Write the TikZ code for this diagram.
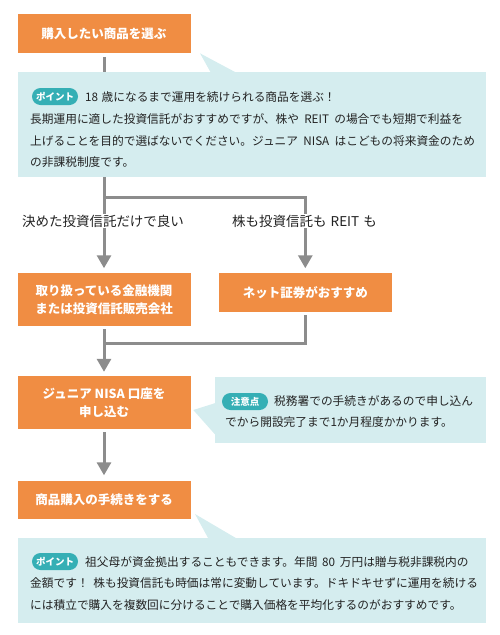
\documentclass[tikz,border=0pt]{standalone}
\usepackage{fontspec}
\setmainfont{Noto Sans CJK JP}
\usetikzlibrary{arrows.meta}
\definecolor{orng}{HTML}{F08D43}
\definecolor{cbg}{HTML}{D5EDEF}
\definecolor{tealb}{HTML}{35AFB5}
\definecolor{lgray}{HTML}{8C8C8C}
\definecolor{tgray}{HTML}{222222}
\tikzset{
  stepbox/.style={fill=orng, text=white, font=\bfseries\fontsize{12.5}{18}\selectfont,
    minimum width=173pt, inner sep=0pt, align=center},
  calloutbox/.style={fill=cbg, inner sep=0pt, anchor=north west},
  badge/.style={fill=tealb, rounded corners=8.5pt, minimum width=46pt, minimum height=17pt,
    inner sep=0pt, text=white, font=\bfseries\fontsize{9.5}{10}\selectfont},
  ctext/.style={anchor=base west, inner sep=0pt, text=tgray, font=\fontsize{11.7}{14}\selectfont},
  conn/.style={draw=lgray, line width=3pt},
  arr/.style={conn, -{Triangle[width=14pt,length=13pt]}},
  lbl/.style={fill=white, text=tgray, inner xsep=1pt, inner ysep=0.5pt,
    font=\fontsize{13.5}{16}\selectfont},
}
\begin{document}
\begin{tikzpicture}[x=1pt,y=-1pt]
\useasboundingbox (0,0) rectangle (500,635);
% step boxes
\node[stepbox, minimum height=38.7pt] (b1) at (104,33.3) {購入したい商品を選ぶ};
\node[stepbox, minimum height=52.7pt] (b2) at (104,299.3) {取り扱っている金融機関\\または投資信託販売会社};
\node[stepbox, minimum height=38.7pt] (b3) at (305.3,292.3) {ネット証券がおすすめ};
\node[stepbox, minimum height=53pt] (b4) at (104,402.5) {ジュニア NISA 口座を\\申し込む};
\node[stepbox, minimum height=38pt] (b5) at (104,500) {商品購入の手続きをする};
% connectors
\coordinate (split) at (104,197.5);
\coordinate (merge) at (104,343);
\draw[conn] ([yshift=-4pt]b1.south) -- (split);
\draw[arr, shorten >=4.5pt] (split) -- (b2.north);
\draw[arr, shorten >=4.5pt] (split) -| (b3.north);
\draw[arr, shorten >=4pt] ([yshift=-3.5pt]b2.south) -- (b4.north);
\draw[conn] ([yshift=-3.5pt]b3.south) |- (merge);
\draw[arr, shorten >=5.5pt] ([yshift=-3pt]b4.south) -- (b5.north);
% branch labels
\node[lbl] (l1) at (103,221) {決めた投資信託だけで良い};
\node[lbl] (l2) at (304.5,221) {株も投資信託も\hspace{0.3em}REIT\hspace{0.3em}も};
% callout 1
\node[calloutbox, minimum width=468pt, minimum height=104.7pt] (c1) at (18,72) {};
\fill[cbg] (200,53.3) -- (210.7,72.5) -- (236,72.5) -- cycle;
\node[badge] (p1) at (55,96.5) {ポイント};
\node[ctext] (t11) at (85,101.4) {18\hspace{0.3em}歳になるまで運用を続けられる商品を選ぶ！};
\node[ctext] (t12) at (30,123.4) {長期運用に適した投資信託がおすすめですが、株や\hspace{0.45em}REIT\hspace{0.45em}の場合でも短期で利益を};
\node[ctext] (t13) at (30,145.1) {上げることを目的で選ばないでください。ジュニア\hspace{0.45em}NISA\hspace{0.45em}はこどもの将来資金のため};
\node[ctext] (t14) at (30,166.7) {の非課税制度です。};
% callout 2
\node[calloutbox, minimum width=271pt, minimum height=66pt] (c2) at (215,376.7) {};
\fill[cbg] (193.3,410) -- (215.5,403) -- (215.5,435) -- cycle;
\node[badge] (p2) at (245,401.5) {注意点};
\node[ctext] (t21) at (274,405.4) {税務署での手続きがあるので申し込ん};
\node[ctext] (t22) at (225,426) {でから開設完了まで1か月程度かかります。};
% callout 3
\node[calloutbox, minimum width=468pt, minimum height=85pt] (c3) at (18,538) {};
\fill[cbg] (195,514) -- (208.3,538.5) -- (236.7,538.5) -- cycle;
\node[badge] (p3) at (55,561.5) {ポイント};
\node[ctext] (t31) at (85,566) {祖父母が資金拠出することもできます。年間\hspace{0.4em}80\hspace{0.4em}万円は贈与税非課税内の};
\node[ctext] (t32) at (30,587.7) {金額です！\hspace{0.4em}株も投資信託も時価は常に変動しています。ドキドキせずに運用を続ける};
\node[ctext] (t33) at (30,609.4) {には積立で購入を複数回に分けることで購入価格を平均化するのがおすすめです。};
\end{tikzpicture}
\end{document}
